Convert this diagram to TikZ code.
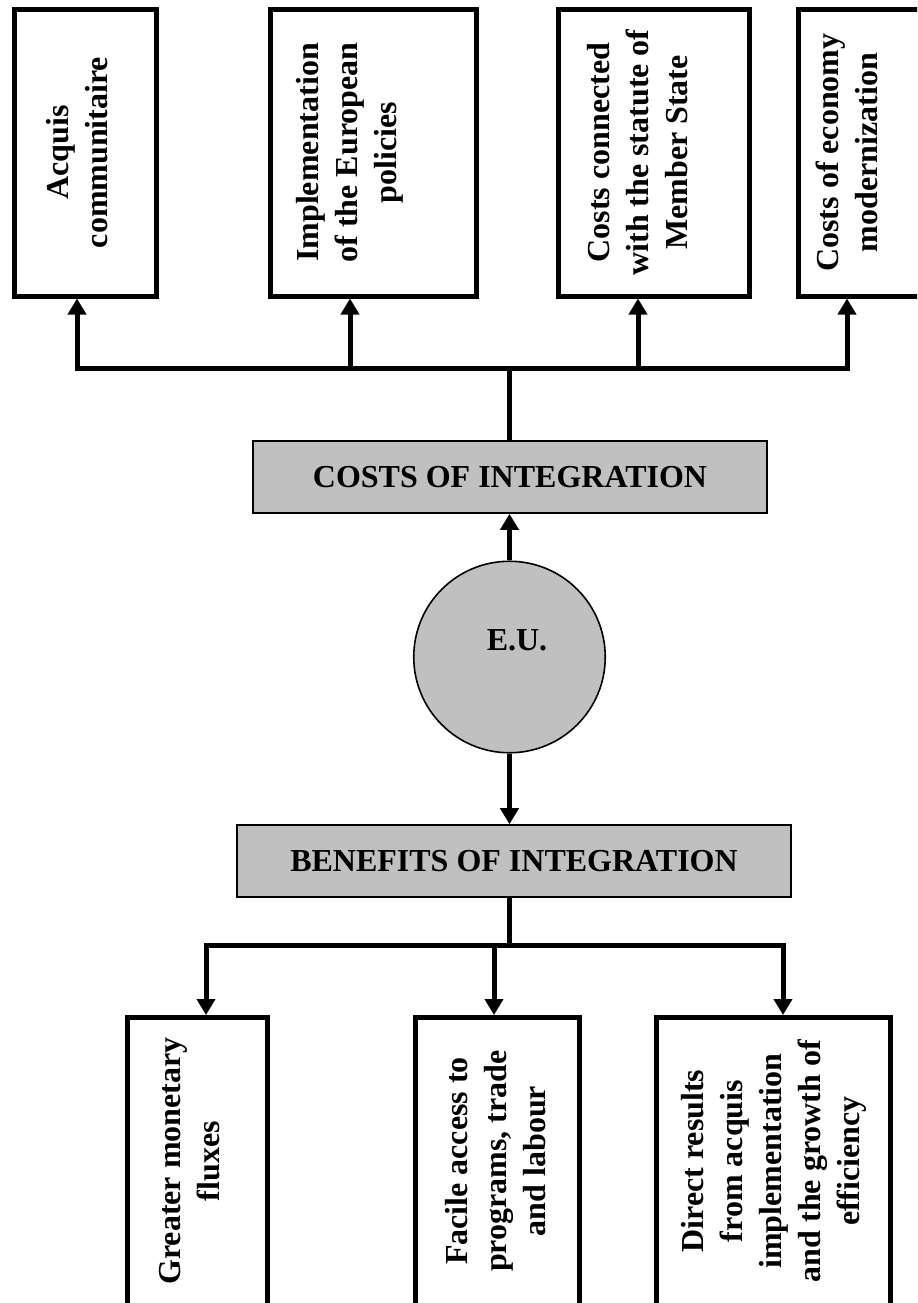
\documentclass[tikz,border=0pt]{standalone}
\usepackage{fontspec}
\setmainfont{Liberation Serif}
\usetikzlibrary{arrows.meta}
\definecolor{boxgray}{RGB}{192,192,192}

\begin{document}
\begin{tikzpicture}[x=0.5pt, y=-0.5pt, every node/.style={font=\fontsize{16}{19.5}\selectfont\bfseries}, box/.style={draw, line width=2.5pt, inner sep=0pt, minimum height=143.5pt}, lowbox/.style={box, minimum height=146pt}, head/.style={draw, fill=boxgray, line width=0.8pt, inner sep=0pt, minimum height=36pt}, vtext/.style={rotate=90, align=center, inner sep=0pt}, conn/.style={line width=2.5pt}, arr/.style={conn, -{Triangle[width=9pt,length=8pt]}}]
	\useasboundingbox (0,0) rectangle (917,1303);
	\clip (0,0) rectangle (917,1303);
	\node[box, minimum width=71pt] (acq) at (85,152.5) {};
	\node[box, minimum width=103pt] (impl) at (373,152.5) {};
	\node[box, minimum width=95.5pt] (memb) at (654,152.5) {};
	\node[box, minimum width=95.5pt] (modern) at (894,152.5) {};
	\node[vtext] (acqtxt) at (77,152.5) {Acquis\\communitaire};
	\node[vtext] (impltxt) at (350,152.5) {Implementation\\of the European\\policies};
	\node[vtext] (membtxt) at (638,152.5) {Costs connected\\with the statute of\\Member State};
	\node[vtext] (modtxt) at (847,152.5) {Costs of economy\\modernization};
	\node[head, minimum width=257pt] (costs) at (510,477) {COSTS OF INTEGRATION};
	\node[draw, circle, fill=boxgray, line width=0.8pt, minimum size=95.75pt, inner sep=0pt] (eu) at (509.5,657) {};
	\node (eutxt) at (517,640) {E.U.};
	\node[head, minimum width=277pt] (benefits) at (514,861) {BENEFITS OF INTEGRATION};
	\node[lowbox, minimum width=70pt] (gmf) at (197.5,1163.5) {};
	\node[lowbox, minimum width=82pt] (fac) at (497.5,1163.5) {};
	\node[lowbox, minimum width=117pt] (dir) at (773.5,1163.5) {};
	\node[vtext] (gmftxt) at (190,1161) {Greater monetary\\fluxes};
	\node[vtext] (factxt) at (496,1161) {Facile access to\\programs, trade\\and labour};
	\node[vtext] (dirtxt) at (774,1161) {Direct results\\from acquis\\implementation\\and the growth of\\efficiency};
	\coordinate (ctop) at (509.5,368);
	\coordinate (cbot) at (509.5,945);
	\draw[conn] (costs.north -| ctop) -- (ctop);
	\foreach \t/\b in {acqtxt/acq, impltxt/impl, membtxt/memb, modtxt/modern}
		\draw[arr] (ctop) -| (\t |- \b.south);
	\draw[arr] (eu.north) -- (eu.north |- costs.south);
	\draw[arr] (eu.south) -- (eu.south |- benefits.north);
	\draw[conn] (benefits.south -| cbot) -- (cbot);
	\draw[arr] (cbot) -| ([xshift=4.25pt]gmf.north);
	\draw[arr] (cbot) -| ([xshift=-1.75pt]fac.north);
	\draw[arr] (cbot) -| ([xshift=4.75pt]dir.north);
\end{tikzpicture}
\end{document}
